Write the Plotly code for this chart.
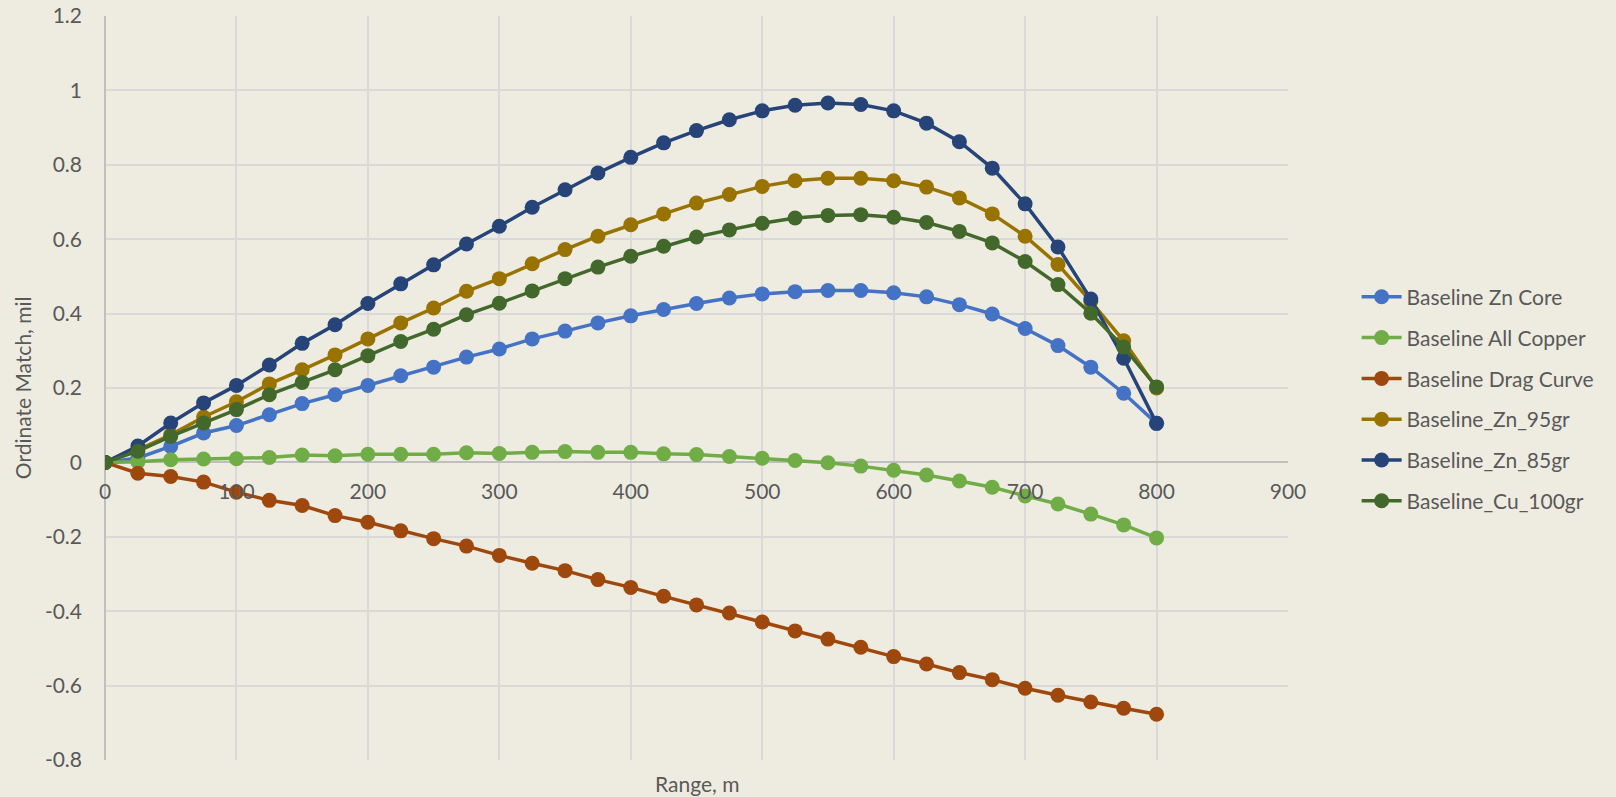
import plotly.graph_objects as go

range_m = list(range(0, 801, 25))

zn_core = [0, 0.012, 0.043, 0.079, 0.099, 0.128, 0.158, 0.182, 0.207, 0.233, 0.256, 0.283, 0.305,
           0.332, 0.353, 0.375, 0.394, 0.411, 0.427, 0.442, 0.453, 0.459, 0.462, 0.462, 0.456,
           0.445, 0.424, 0.399, 0.360, 0.314, 0.256, 0.186, 0.105]
all_copper = [0, 0.002, 0.007, 0.009, 0.010, 0.013, 0.020, 0.018, 0.022, 0.022, 0.022, 0.026, 0.024,
              0.027, 0.029, 0.027, 0.027, 0.023, 0.021, 0.016, 0.011, 0.005, -0.001, -0.010, -0.021,
              -0.034, -0.050, -0.067, -0.090, -0.112, -0.139, -0.168, -0.203]
drag_curve = [0, -0.029, -0.038, -0.053, -0.080, -0.102, -0.116, -0.143, -0.161, -0.184, -0.205,
              -0.225, -0.250, -0.271, -0.291, -0.315, -0.336, -0.360, -0.383, -0.405, -0.429,
              -0.453, -0.475, -0.497, -0.522, -0.542, -0.565, -0.584, -0.607, -0.626, -0.644,
              -0.661, -0.677]
zn_95 = [0, 0.034, 0.074, 0.122, 0.163, 0.211, 0.249, 0.289, 0.332, 0.375, 0.415, 0.460, 0.494,
         0.534, 0.572, 0.608, 0.639, 0.668, 0.697, 0.720, 0.742, 0.757, 0.764, 0.764, 0.757,
         0.740, 0.711, 0.668, 0.608, 0.532, 0.433, 0.327, 0.200]
zn_85 = [0, 0.044, 0.106, 0.160, 0.207, 0.262, 0.320, 0.370, 0.427, 0.480, 0.531, 0.587, 0.635,
         0.686, 0.733, 0.778, 0.820, 0.859, 0.892, 0.921, 0.945, 0.960, 0.966, 0.962, 0.945,
         0.912, 0.862, 0.791, 0.695, 0.579, 0.439, 0.280, 0.105]
cu_100 = [0, 0.030, 0.070, 0.106, 0.142, 0.182, 0.215, 0.249, 0.287, 0.325, 0.358, 0.397, 0.428,
          0.461, 0.494, 0.525, 0.554, 0.581, 0.606, 0.625, 0.643, 0.657, 0.664, 0.666, 0.659,
          0.645, 0.621, 0.590, 0.540, 0.478, 0.401, 0.310, 0.203]

series_names = ["Baseline Zn Core", "Baseline All Copper", "Baseline Drag Curve",
                "Baseline_Zn_95gr", "Baseline_Zn_85gr", "Baseline_Cu_100gr"]
series_values = [zn_core, all_copper, drag_curve, zn_95, zn_85, cu_100]
series_colors = ["#4472C4", "#70AD47", "#9E480E", "#997300", "#264478", "#43682B"]

x_ticks = list(range(0, 901, 100))
y_ticks = [-0.8, -0.6, -0.4, -0.2, 0, 0.2, 0.4, 0.6, 0.8, 1, 1.2]
y_tick_text = ["-0.8", "-0.6", "-0.4", "-0.2", "0", "0.2", "0.4", "0.6", "0.8", "1", "1.2"]

FONT = "Lato, 'Open Sans', sans-serif"
TXT = "#595959"
BG = "#EEECE1"

fig = go.Figure()
for i, (name, vals, col) in enumerate(zip(series_names, series_values, series_colors)):
    fig.add_trace(go.Scatter(
        x=range_m, y=vals, name=name, mode="lines+markers",
        line=dict(color=col, width=3.5),
        marker=dict(color=col, size=15),
        legendgroup=f"g{i}",
    ))

fig.update_layout(
    width=1616, height=797,
    margin=dict(l=105, r=328, t=16, b=37, autoexpand=False),
    paper_bgcolor=BG, plot_bgcolor=BG,
    font=dict(family=FONT, size=21, color=TXT),
    showlegend=True,
    legend=dict(x=1.058, xanchor="left", y=0.485, yanchor="middle",
                bgcolor="rgba(0,0,0,0)", font=dict(size=21, color=TXT),
                tracegroupgap=10.5, itemwidth=40),
    xaxis=dict(range=[0, 900], tickvals=x_ticks, showgrid=True, gridcolor="#D9D9D9",
               gridwidth=1.5, zeroline=True, zerolinecolor="#BFBFBF", zerolinewidth=2,
               showline=False, anchor="free", position=0.4, ticks="", automargin=False,
               ticklabelstandoff=15, tickfont=dict(size=21, color=TXT)),
    yaxis=dict(range=[-0.8, 1.2], tickvals=y_ticks, ticktext=y_tick_text, showgrid=True,
               gridcolor="#D9D9D9", gridwidth=1.5, zeroline=True, zerolinecolor="#BFBFBF",
               zerolinewidth=2, showline=False, ticks="", ticklabelstandoff=22, automargin=False,
               tickfont=dict(size=21, color=TXT)),
    annotations=[
        dict(text="Range, m", xref="paper", yref="paper", x=0.5, y=-0.031,
             xanchor="center", yanchor="middle", showarrow=False,
             font=dict(size=21, color=TXT, family=FONT)),
        dict(text="Ordinate Match, mil", xref="paper", yref="paper", x=-0.07, y=0.5,
             xanchor="center", yanchor="middle", showarrow=False, textangle=-90,
             font=dict(size=21, color=TXT, family=FONT)),
    ],
)

fig.write_html(
    "out.html",
    config={"displayModeBar": False},
    post_script="document.body.style.margin='0';document.body.style.padding='0';"
                "document.body.style.overflow='hidden';document.body.style.background='" + BG + "';",
)
